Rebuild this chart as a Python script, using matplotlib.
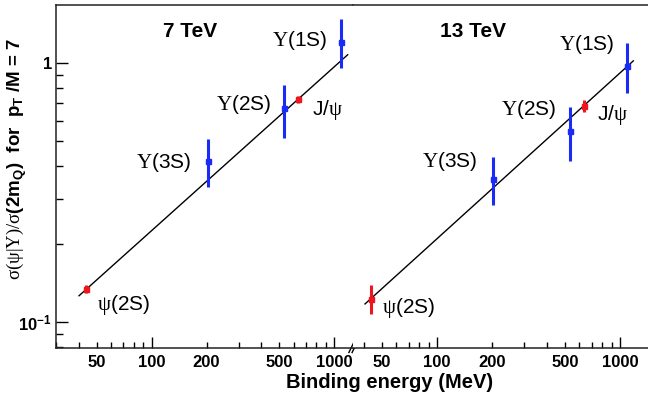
import numpy as np
import matplotlib
matplotlib.use('Agg')
import matplotlib.pyplot as plt
from matplotlib import ticker


# Fuentes: texto tipo Helvetica, griegas en serif
plt.rcParams['font.family'] = ['Liberation Sans', 'DejaVu Sans']
plt.rcParams['mathtext.fontset'] = 'custom'
plt.rcParams['mathtext.rm'] = 'Liberation Serif'
plt.rcParams['mathtext.it'] = 'Liberation Sans:italic'
plt.rcParams['mathtext.bf'] = 'Liberation Sans:bold'
plt.rcParams['mathtext.sf'] = 'Liberation Sans'


# Energias de ligadura (MeV): psi(2S), Y(3S), Y(2S), J/psi, Y(1S)
estados = ['psi2S', 'Y3S', 'Y2S', 'Jpsi', 'Y1S']
energia = [43.6, 203.4, 535.3, 632.8, 1098.0]

# 7 TeV
y7 = [0.134, 0.420, 0.671, 0.727, 1.214]
y7_lo = [0.129, 0.334, 0.514, 0.700, 0.958]
y7_hi = [0.139, 0.509, 0.826, 0.750, 1.480]

# 13 TeV
y13 = [0.1227, 0.357, 0.548, 0.685, 0.980]
y13_lo = [0.107, 0.284, 0.418, 0.647, 0.767]
y13_hi = [0.139, 0.434, 0.677, 0.722, 1.197]

# Ajustes (extremos de la recta)
fit7_x = [40.0, 1189.0]
fit7_y = [0.1264, 1.079]
fit13_x = [40.4, 1183.0]
fit13_y = [0.1175, 1.022]

# Etiquetas de los estados
etiquetas = [r'$\mathrm{\psi}$(2S)', r'$\mathrm{\Upsilon}$(3S)',
             r'$\mathrm{\Upsilon}$(2S)', r'J/$\mathrm{\psi}$',
             r'$\mathrm{\Upsilon}$(1S)']
pos7 = [(50.1, 0.1164), (82, 0.412), (226, 0.691), (757, 0.661), (460, 1.22)]
pos13 = [(50.1, 0.113), (83, 0.416), (225, 0.661), (748, 0.632), (466, 1.179)]

colores = ['#f0141e', '#1a2bf5', '#1a2bf5', '#f0141e', '#1a2bf5']


W, H = 648, 394
fig = plt.figure(figsize=(W / 100, H / 100), dpi=100)

x0, xb, x1 = 56, 352.7, 648
ytop, ybot = 5, 348
ax1 = fig.add_axes([x0 / W, 1 - ybot / H, (xb - x0) / W, (ybot - ytop) / H])
ax2 = fig.add_axes([xb / W, 1 - ybot / H, (x1 - xb) / W, (ybot - ytop) / H], sharey=ax1)


def formato_x(v, p):
    m = v / 10 ** np.floor(np.log10(v) + 1e-9)
    if round(m) in (1, 2, 5):
        return '%d' % round(v)
    return ''


def formato_y(v, p):
    if abs(v - 1) < 1e-6:
        return '1'
    if abs(v - 0.1) < 1e-6:
        return r'$\mathbf{10^{-1}}$'
    return ''


for ax, ys, lo, hi, fx, fy, pos, titulo, tx in [
        (ax1, y7, y7_lo, y7_hi, fit7_x, fit7_y, pos7, '7 TeV', 115),
        (ax2, y13, y13_lo, y13_hi, fit13_x, fit13_y, pos13, '13 TeV', 104)]:
    ax.set_xscale('log')
    ax.set_yscale('log')
    ax.plot(fx, fy, color='black', lw=1.0, zorder=3)
    for i in range(len(estados)):
        err = [[ys[i] - lo[i]], [hi[i] - ys[i]]]
        ax.errorbar([energia[i]], [ys[i]], yerr=err, fmt='s', ms=3.6,
                    color=colores[i], elinewidth=2.2, capsize=0, zorder=4)
        ax.text(pos[i][0], pos[i][1], etiquetas[i], fontsize=15,
                ha='left', va='center')
    ax.text(tx, 1.266, titulo, fontsize=15, fontweight='bold',
            ha='left', va='baseline')
    ax.xaxis.set_major_locator(ticker.LogLocator(base=10))
    ax.xaxis.set_minor_locator(ticker.LogLocator(base=10, subs=np.arange(2, 10)))
    ax.xaxis.set_major_formatter(ticker.FuncFormatter(formato_x))
    ax.xaxis.set_minor_formatter(ticker.FuncFormatter(formato_x))
    ax.tick_params(axis='x', which='major', direction='in', length=8, width=1,
                   pad=5, labelsize=12)
    ax.tick_params(axis='x', which='minor', direction='in', length=4.5, width=1,
                   pad=5, labelsize=12)
    for lab in ax.get_xticklabels(which='both'):
        lab.set_fontweight('bold')
    for s in ax.spines.values():
        s.set_linewidth(1.1)
        s.set_color('#222222')
    ax.spines['right'].set_visible(False)

ax1.set_xlim(29.9, 1267)
ax2.set_xlim(34.6, 1423)
ax1.set_ylim(0.0794, 1.68)

ax1.yaxis.set_major_formatter(ticker.FuncFormatter(formato_y))
ax1.yaxis.set_minor_formatter(ticker.NullFormatter())
ax1.tick_params(axis='y', which='major', direction='in', length=8.5, width=1,
                labelsize=12, pad=3, right=False)
ax1.tick_params(axis='y', which='minor', direction='in', length=5, width=1,
                right=False)
for lab in ax1.get_yticklabels():
    lab.set_fontweight('bold')

ax2.spines['left'].set_visible(False)
ax2.tick_params(axis='y', which='both', left=False, labelleft=False)

# Marca de corte del eje
for d in (-1.6, 1.6):
    ax1.plot([1 + (d - 2.2) / (xb - x0), 1 + (d + 2.2) / (xb - x0)],
             [-4.5 / (ybot - ytop), 4.5 / (ybot - ytop)],
             transform=ax1.transAxes, color='black', lw=1.0, clip_on=False)

fig.text(390 / W, 1 - 382 / H, 'Binding energy (MeV)', fontsize=14.5,
         fontweight='bold', ha='center', va='center')
fig.text(17 / W, 1 - 159 / H,
         r'$\mathrm{\sigma(\psi}|\mathrm{\Upsilon)/\sigma}$(2m$_\mathbf{Q}$)  for  p$_\mathbf{T}$ /M = 7',
         fontsize=13.5, fontweight='bold', rotation=90, ha='center', va='center')

fig.savefig('out.png', dpi=100)
